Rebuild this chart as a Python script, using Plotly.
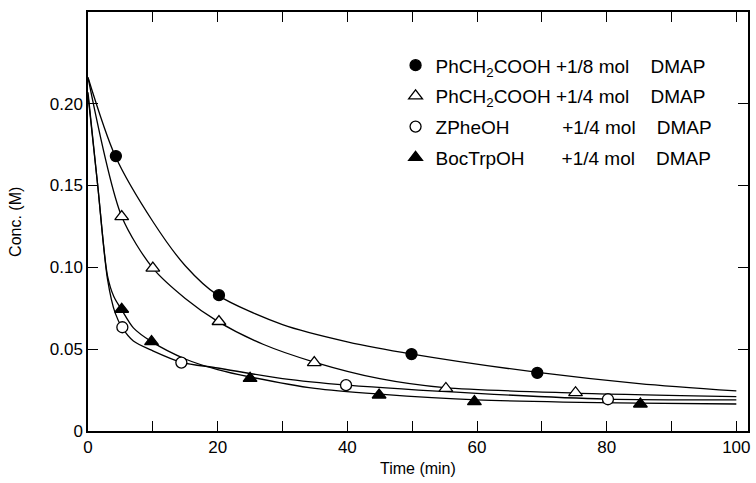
import plotly.graph_objects as go

# measured points (time in min, conc in M)
t_pa8 = [4.3, 20.2, 49.9, 69.3]
c_pa8 = [0.168, 0.083, 0.047, 0.0355]

t_pa4 = [5.2, 10.0, 20.2, 34.9, 55.2, 75.2]
c_pa4 = [0.131, 0.0995, 0.0669, 0.0418, 0.026, 0.0234]

t_zphe = [5.3, 14.4, 39.8, 80.2]
c_zphe = [0.0634, 0.0418, 0.028, 0.0194]

t_boc = [5.2, 9.8, 25.0, 44.9, 59.6, 85.2]
c_boc = [0.0744, 0.0546, 0.0322, 0.022, 0.018, 0.0165]

# fitted curves
fit_t_pa8 = [0, 4.2, 10, 15, 20, 30, 40, 50, 70, 85, 100]
fit_c_pa8 = [0.216, 0.168, 0.128, 0.101, 0.083, 0.065, 0.0545, 0.047, 0.0355, 0.029, 0.0245]

fit_t_pa4 = [0, 5.2, 10, 15, 20, 27, 35, 45, 55, 75, 100]
fit_c_pa4 = [0.216, 0.131, 0.0995, 0.081, 0.067, 0.053, 0.042, 0.032, 0.0265, 0.0232, 0.021]

fit_t_zphe = [0, 1.5, 3, 4.2, 5.3, 7, 10, 14.4, 20, 30, 40, 60, 80, 100]
fit_c_zphe = [0.207, 0.15, 0.093, 0.072, 0.063, 0.055, 0.049, 0.042, 0.0385, 0.032, 0.028, 0.023, 0.0195, 0.019]

fit_t_boc = [0, 1.5, 3, 4, 5.2, 7, 9.8, 15, 20, 25, 35, 45, 60, 85, 100]
fit_c_boc = [0.205, 0.15, 0.095, 0.082, 0.074, 0.063, 0.0546, 0.044, 0.0375, 0.033, 0.026, 0.0225, 0.019, 0.017, 0.0165]

x_ticks = [0, 10, 20, 30, 40, 50, 60, 70, 80, 90, 100]
x_labels = ["0", "", "20", "", "40", "", "60", "", "80", "", "100"]
y_ticks = [0, 0.05, 0.10, 0.15, 0.20]
y_labels = ["0", "0.05", "0.10", "0.15", "0.20"]

NB = "\u00a0"
tail = NB + "mol" + NB * 4 + "DMAP"
names = [
    "PhCH<sub>2</sub>COOH" + NB + "+1/8" + tail,
    "PhCH<sub>2</sub>COOH" + NB + "+1/4" + tail,
    "ZPheOH" + NB * 10 + "+1/4" + tail,
    "BocTrpOH" + NB * 7 + "+1/4" + tail,
]

FONT = "Liberation Sans, Arial, sans-serif"

fig = go.Figure()

curves = [(fit_t_pa8, fit_c_pa8), (fit_t_pa4, fit_c_pa4),
          (fit_t_zphe, fit_c_zphe), (fit_t_boc, fit_c_boc)]
for t, c in curves:
    fig.add_trace(go.Scatter(x=t, y=c, mode="lines",
                             line=dict(color="black", width=1.3, shape="spline", smoothing=0.8),
                             showlegend=False, hoverinfo="skip"))

# filled black or white-filled (open) markers
points = [
    (t_pa8, c_pa8, "circle", "black", 11),
    (t_pa4, c_pa4, "triangle-up", "white", 12),
    (t_zphe, c_zphe, "circle", "white", 11),
    (t_boc, c_boc, "triangle-up", "black", 12),
]
for i, (t, c, sym, fill, sz) in enumerate(points):
    fig.add_trace(go.Scatter(
        x=t, y=c, mode="markers", name=names[i], legendgroup="g%d" % i,
        marker=dict(symbol=sym, size=sz, color=fill,
                    line=dict(color="black", width=1.3)),
        cliponaxis=False,
    ))

fig.update_layout(
    width=756, height=483,
    margin=dict(l=88, r=6, t=12, b=52),
    paper_bgcolor="white", plot_bgcolor="white",
    font=dict(family=FONT, size=17, color="black"),
    showlegend=True,
    legend=dict(x=0.466, y=0.918, xanchor="left", yanchor="top",
                bgcolor="rgba(0,0,0,0)", font=dict(size=19),
                tracegroupgap=3, itemwidth=30),
    xaxis=dict(range=[0, 101.8], tickvals=x_ticks, ticktext=x_labels,
               ticks="inside", ticklen=10, tickwidth=1.2, tickcolor="black",
               showline=True, linecolor="black", linewidth=1.5, mirror="ticks",
               showgrid=False, zeroline=False),
    yaxis=dict(range=[0, 0.256], tickvals=y_ticks, ticktext=y_labels,
               ticks="inside", ticklen=10, tickwidth=1.2, tickcolor="black",
               showline=True, linecolor="black", linewidth=1.5, mirror="ticks",
               showgrid=False, zeroline=False),
    annotations=[
        dict(text="Time (min)", xref="paper", yref="paper", x=0.5, y=-0.09,
             xanchor="center", yanchor="middle", showarrow=False, font=dict(size=16)),
        dict(text="Conc. (M)", xref="paper", yref="paper", x=-0.11, y=0.5,
             xanchor="center", yanchor="middle", showarrow=False, textangle=-90,
             font=dict(size=16)),
    ],
)

# page has a default body margin; drop it so the figure sits at the window corner
fig.write_html("out.html", config={"displayModeBar": False},
               post_script="document.body.style.margin='0';")
